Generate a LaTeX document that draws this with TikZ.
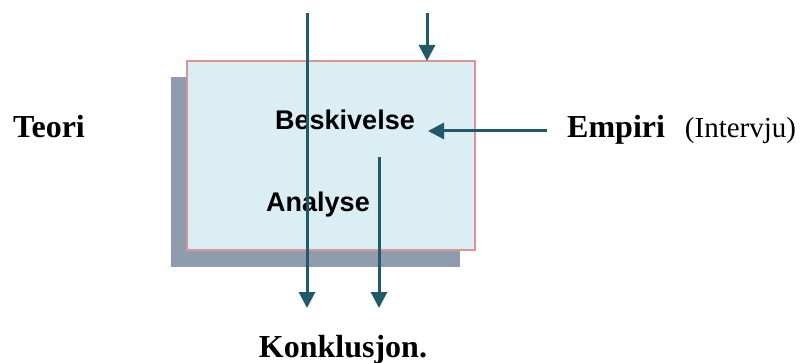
\documentclass[tikz,border=0pt]{standalone}
\usepackage{fontspec}
\setmainfont{Liberation Serif}
\setsansfont{Liberation Sans}
\usetikzlibrary{arrows.meta}

\definecolor{flowteal}{HTML}{215968}
\definecolor{boxfill}{HTML}{DBEEF4}
\definecolor{boxline}{HTML}{D99594}
\definecolor{boxshadow}{HTML}{8E9CAD}

\tikzset{
  flow/.style={draw=flowteal, line width=3pt, -{Triangle[width=16pt,length=16pt]}},
  serifbig/.style={font=\fontsize{32}{36}\selectfont\bfseries, anchor=base, inner sep=0pt},
  sanslabel/.style={font=\fontsize{27}{30}\selectfont\sffamily\bfseries, anchor=base, inner sep=0pt}
}

\begin{document}
\begin{tikzpicture}[x=1pt, y=-1pt]

    \useasboundingbox (0,0) rectangle (805,363);

    % shadow and box
    \fill[boxshadow] (171,77) rectangle (460,267);
    \node[draw=boxline, fill=boxfill, line width=1.5pt, minimum width=288pt,
          minimum height=189pt, inner sep=0pt] at (331,155.5) (box) {};

    \node[sanslabel] at (345,130) (beskr) {Beskivelse};
    \node[sanslabel] at (318,212) (anal) {Analyse};

    \node[serifbig] at (49,138) (teori) {Teori};
    \node[serifbig, anchor=base west] at (567,138) (empiri)
      {Empiri\hspace{20pt}\mdseries\fontsize{29}{34}\selectfont(Intervju)};
    \node[serifbig] at (343,357) (konk) {Konklusjon.};

    \coordinate (a1) at (307,13);
    \coordinate (b1) at (307,308);
    \coordinate (a2) at (427,13);
    \coordinate (b2) at (427,61);
    \coordinate (a3) at (379,157);
    \coordinate (b3) at (379,308);
    \coordinate (a4) at (547,131);
    \coordinate (b4) at (428,131);

    \draw[flow] (a1) -- (b1);
    \draw[flow] (a2) -- (b2);
    \draw[flow] (a3) -- (b3);
    \draw[flow] (a4) -- (b4);

  \end{tikzpicture}
\end{document}
